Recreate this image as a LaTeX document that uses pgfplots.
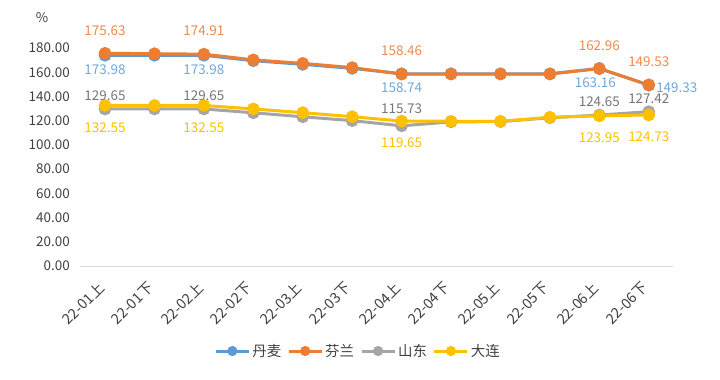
\documentclass[border=0pt]{standalone}
\usepackage{pgfplots}
\pgfplotsset{compat=1.18}
\usepackage{fontspec}
\setmainfont{Noto Sans CJK SC}
\definecolor{cblue}{HTML}{5B9BD5}
\definecolor{corange}{HTML}{ED7D31}
\definecolor{cgray}{HTML}{A5A5A5}
\definecolor{cyellow}{HTML}{FFC000}
\definecolor{lblue}{HTML}{6FA8DC}
\definecolor{lorange}{HTML}{F0894A}
\definecolor{lgray}{HTML}{767676}
\definecolor{lyellow}{HTML}{FFC000}
\definecolor{axgray}{HTML}{D9D9D9}
\definecolor{txt}{HTML}{404040}
\begin{document}
\begin{tikzpicture}
\path[use as bounding box] (0,0) rectangle (720bp,380bp);
\begin{axis}[
  at={(80bp,114bp)}, anchor=south west,
  scale only axis, width=593bp, height=218bp,
  xmin=-0.506, xmax=11.49, ymin=0, ymax=180,
  clip=false,
  axis x line*=bottom, axis y line*=left,
  x axis line style={draw=axgray, line width=1bp, -},
  y axis line style={draw=none},
  major tick length=0pt,
  xtick={0,...,11},
  xticklabels={22-01上,22-01下,22-02上,22-02下,22-03上,22-03下,22-04上,22-04下,22-05上,22-05下,22-06上,22-06下},
  x tick label style={font=\fontsize{14.5}{15}\selectfont, text=txt, inner sep=0pt, rotate=45, anchor=east, xshift=-16bp, yshift=-11bp},
  ytick={0,20,...,180},
  y tick label style={font=\fontsize{13.5}{15}\selectfont, text=txt, inner sep=0pt, xshift=-10bp},
  yticklabel={\pgfmathprintnumber[fixed,fixed zerofill,precision=2,1000 sep={}]{\tick}},
  /pgf/number format/assume math mode=true,
  legend style={at={(rel axis cs:0.469,-0.39)}, anchor=center, draw=none, fill=none,
    font=\fontsize{14.5}{16}\selectfont, text=txt, column sep=0pt, inner sep=0pt,
    /tikz/every even column/.append style={column sep=4bp}},
  legend columns=4,
  legend image code/.code={\draw[#1, line width=3bp] (0bp,0bp) -- (33bp,0bp); \fill[#1] (16.5bp,0bp) circle (3.5bp);},
  every axis plot/.append style={line width=3bp, mark=*, mark size=4.8bp},
]
\addplot[color=cblue, mark options={fill=cblue, draw=cblue}] coordinates {
(0,173.98) (1,173.98) (2,173.98) (3,169.5) (4,166.5) (5,163.2) (6,158.74) (7,158.7) (8,158.7) (9,158.7) (10,163.16) (11,149.33)};
\addlegendentry{丹麦}
\addplot[color=corange, mark options={fill=corange, draw=corange}] coordinates {
(0,175.63) (1,175.3) (2,174.91) (3,170.2) (4,167.3) (5,163.8) (6,158.46) (7,158.5) (8,158.5) (9,158.5) (10,162.96) (11,149.53)};
\addlegendentry{芬兰}
\addplot[color=cgray, mark options={fill=cgray, draw=cgray}] coordinates {
(0,129.65) (1,129.65) (2,129.65) (3,126.5) (4,123.2) (5,120.0) (6,115.73) (7,119.0) (8,119.2) (9,122.4) (10,124.65) (11,127.42)};
\addlegendentry{山东}
\addplot[color=cyellow, mark options={fill=cyellow, draw=cyellow}] coordinates {
(0,132.55) (1,132.55) (2,132.55) (3,129.7) (4,126.6) (5,123.3) (6,119.65) (7,119.5) (8,119.5) (9,122.8) (10,123.95) (11,124.73)};
\addlegendentry{大连}
% data labels
\pgfplotsset{lbl/.style={forget plot, draw=none, mark=none, nodes near coords, point meta=explicit symbolic,
  nodes near coords style={font=\fontsize{13.5}{15}\selectfont, inner sep=0pt, anchor=center}}}
\addplot[lbl, nodes near coords style={text=lorange, yshift=23bp}] coordinates {
(0,175.63)[175.63] (2,174.91)[174.91] (6,158.46)[158.46] (10,162.96)[162.96] (11,149.53)[149.53]};
\addplot[lbl, nodes near coords style={text=lblue, yshift=-14bp}] coordinates {
(0,173.98)[173.98] (2,173.98)[173.98] (6,158.74)[158.74]};
\addplot[lbl, nodes near coords style={text=lblue, yshift=-14bp, xshift=-4bp}] coordinates {
(10,163.16)[163.16]};
\addplot[lbl, nodes near coords style={text=lblue, anchor=west, xshift=6bp, yshift=-3bp}] coordinates {
(11,149.33)[149.33]};
\addplot[lbl, nodes near coords style={text=lgray, yshift=13bp}] coordinates {
(0,129.65)[129.65] (2,129.65)[129.65] (10,124.65)[124.65] (11,127.42)[127.42]};
\addplot[lbl, nodes near coords style={text=lgray, yshift=17bp}] coordinates {
(6,115.73)[115.73]};
\addplot[lbl, nodes near coords style={text=lyellow, yshift=-22bp}] coordinates {
(0,132.55)[132.55] (2,132.55)[132.55] (6,119.65)[119.65] (10,123.95)[123.95] (11,124.73)[124.73]};
\node[text=txt, font=\fontsize{13.5}{15}\selectfont] at (rel axis cs:0,1) [xshift=-38bp, yshift=30bp] {\%};
\end{axis}
\end{tikzpicture}
\end{document}
